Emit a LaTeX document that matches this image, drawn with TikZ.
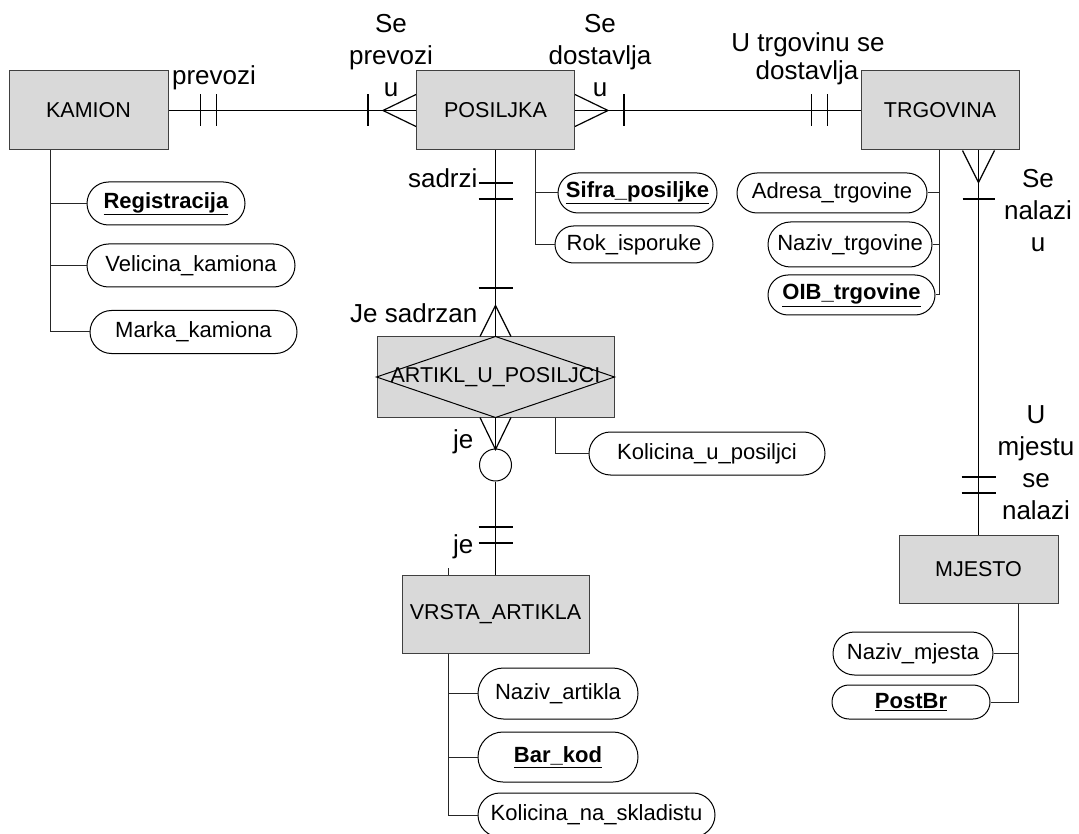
\documentclass[tikz,border=0pt]{standalone}
\usepackage{fontspec}
\setmainfont{Liberation Sans}
\definecolor{boxgray}{RGB}{217,217,217}
\begin{document}
\begin{tikzpicture}[x=1pt,y=-1pt, line width=1.2pt,
  ent/.style args={#1/#2}{draw=black!75, line width=1pt, fill=boxgray, inner sep=0pt,
     minimum width=#1pt, minimum height=#2pt, font=\fontsize{21.5}{26}\selectfont},
  pill/.style args={#1/#2}{draw, line width=1pt, fill=white, inner sep=0pt,
     minimum width=#1pt, minimum height=#2pt, rounded corners=#2pt/2,
     font=\fontsize{22}{26}\selectfont},
  lbl/.style={inner sep=0pt, font=\fontsize{26}{32}\selectfont},
  att/.style={line width=1pt, draw=black!85}]
\useasboundingbox (0,0) rectangle (1079,834);

% entities
\node[ent=159/79] (kamion) at (88.5,110.5) {KAMION};
\node[ent=158/79] (posiljka) at (495.5,110.5) {POSILJKA};
\node[ent=158/79] (trgovina) at (940,110.5) {TRGOVINA};
\node[ent=237/80] (artikl) at (495.5,377) {};
\draw[line width=1pt] (artikl.north) -- (artikl.east) -- (artikl.south) -- (artikl.west) -- cycle;
\node[inner sep=0pt, font=\fontsize{21.5}{26}\selectfont] (artiklt) at (artikl.center) {ARTIKL\_U\_POSILJCI};
\node[ent=187/78] (vrsta) at (495.5,614) {VRSTA\_ARTIKLA};
\node[ent=159/68] (mjesto) at (978.5,569) {MJESTO};
\node[circle, draw, fill=white, line width=1pt, minimum size=32pt, inner sep=0pt] (opt) at (495.5,465) {};

% attributes
\node[pill=158/43] (reg) at (166,203.5) {\underline{\textbf{Registracija}}};
\node[pill=208/43] (vel) at (191,265.5) {Velicina\_kamiona};
\node[pill=207/43] (mar) at (193.5,332) {Marka\_kamiona};
\node[pill=159/40] (sif) at (637.5,193) {\underline{\textbf{Sifra\_posiljke}}};
\node[pill=158/37] (rok) at (634,244.5) {Rok\_isporuke};
\node[pill=190/40] (adr) at (832,193) {Adresa\_trgovine};
\node[pill=164/45] (nzt) at (850,244.5) {Naziv\_trgovine};
\node[pill=167/40] (oib) at (851.5,295) {\underline{\textbf{OIB\_trgovine}}};
\node[pill=236/43] (kup) at (707,453.5) {Kolicina\_u\_posiljci};
\node[pill=160/51] (nza) at (558,693.5) {Naziv\_artikla};
\node[pill=160/50] (bar) at (558,757) {\underline{\textbf{Bar\_kod}}};
\node[pill=237/44] (kns) at (596.5,815) {Kolicina\_na\_skladistu};
\node[pill=160/43] (nzm) at (913,653.5) {Naziv\_mjesta};
\node[pill=158/34] (pbr) at (911,702) {\underline{\textbf{PostBr}}};

% attribute connectors
\draw[att] (kamion.south west) ++(41.5,0) |- (reg.west);
\draw[att] (kamion.south west) ++(41.5,0) |- (vel.west);
\draw[att] (kamion.south west) ++(41.5,0) |- (mar.west);
\draw[att] (posiljka.south) ++(40,0) |- (sif.west);
\draw[att] (posiljka.south) ++(40,0) |- (rok.west);
\draw[att] (trgovina.south) ++(-0.5,0) |- (adr.east);
\draw[att] (trgovina.south) ++(-0.5,0) |- (nzt.east);
\draw[att] (trgovina.south) ++(-0.5,0) |- (oib.east);
\draw[att] (artikl.south) ++(60,0) |- (kup.west);
\draw[att] (vrsta.south) ++(-47,0) |- (nza.west);
\draw[att] (vrsta.south) ++(-47,0) |- (bar.west);
\draw[att] (vrsta.south) ++(-47,0) |- (kns.west);
\draw[att] (vrsta.north) ++(-47,0) -- ++(0,-7);
\draw[att] (mjesto.south) ++(40,0) |- (nzm.east);
\draw[att] (mjesto.south) ++(40,0) |- (pbr.east);

% KAMION - POSILJKA
\draw (kamion.east) -- (posiljka.west);
\draw (kamion.east) ++(32,-16) -- ++(0,32);
\draw (kamion.east) ++(48,-16) -- ++(0,32);
\draw (posiljka.west) ++(-48,-16) -- ++(0,32);
\draw (posiljka.west) ++(0,-16) -- ++(-33,16) -- ++(33,16);

% POSILJKA - TRGOVINA
\draw (posiljka.east) -- (trgovina.west);
\draw (posiljka.east) ++(0,-16) -- ++(33,16) -- ++(-33,16);
\draw (posiljka.east) ++(49,-16) -- ++(0,32);
\draw (trgovina.west) ++(-49,-16) -- ++(0,32);
\draw (trgovina.west) ++(-33,-16) -- ++(0,32);

% POSILJKA - ARTIKL_U_POSILJCI
\draw (posiljka.south) -- (artikl.north);
\draw (posiljka.south) ++(-17,32.5) -- ++(34,0);
\draw (posiljka.south) ++(-17,48.5) -- ++(34,0);
\draw (artikl.north) ++(-17,-48.5) -- ++(34,0);
\draw (artikl.north) ++(-15.5,0) -- ++(15.5,-31) -- ++(15.5,31);

% ARTIKL_U_POSILJCI - VRSTA_ARTIKLA
\draw (artikl.south) -- (opt.north);
\draw (artikl.south) ++(-15.5,0) -- ++(15.5,32) -- ++(15.5,-32);
\draw (opt.south) -- (vrsta.north);
\draw (vrsta.north) ++(-17,-47.5) -- ++(34,0);
\draw (vrsta.north) ++(-17,-31.5) -- ++(34,0);

% TRGOVINA - MJESTO
\coordinate (tm) at (trgovina.south -| mjesto.north);
\draw (tm) -- (mjesto.north);
\draw (tm) ++(-16,0) -- ++(16,32) -- ++(16,-32);
\draw (tm) ++(-16,48.5) -- ++(32,0);
\draw (mjesto.north) ++(-17,-57.5) -- ++(34,0);
\draw (mjesto.north) ++(-17,-41.5) -- ++(34,0);

% labels
\node[lbl, anchor=base] (l1) at (214,85) {prevozi};
\node[lbl, anchor=base] (l2a) at (391,33) {Se};
\node[lbl, anchor=base] (l2b) at (391,65) {prevozi};
\node[lbl, anchor=base] (l2c) at (391,97) {u};
\node[lbl, anchor=base] (l3a) at (600,33) {Se};
\node[lbl, anchor=base] (l3b) at (600,65) {dostavlja};
\node[lbl, anchor=base] (l3c) at (600,97) {u};
\node[lbl, anchor=base] (l4a) at (808,52) {U trgovinu se};
\node[lbl, anchor=base] (l4b) at (807,80) {dostavlja};
\node[lbl, anchor=base] (l5a) at (1038,188) {Se};
\node[lbl, anchor=base] (l5b) at (1038,220) {nalazi};
\node[lbl, anchor=base] (l5c) at (1038,252) {u};
\node[lbl, anchor=base] (l6a) at (1036,423) {U};
\node[lbl, anchor=base] (l6b) at (1036,455) {mjestu};
\node[lbl, anchor=base] (l6c) at (1036,487) {se};
\node[lbl, anchor=base] (l6d) at (1036,519) {nalazi};
\node[lbl, anchor=base east] (l7) at (478,188) {sadrzi};
\node[lbl, anchor=base east] (l8) at (478,323) {Je sadrzan};
\node[lbl, anchor=base east] (l9) at (474,448) {je};
\node[lbl, anchor=base east] (l10) at (474,553) {je};
\end{tikzpicture}
\end{document}
